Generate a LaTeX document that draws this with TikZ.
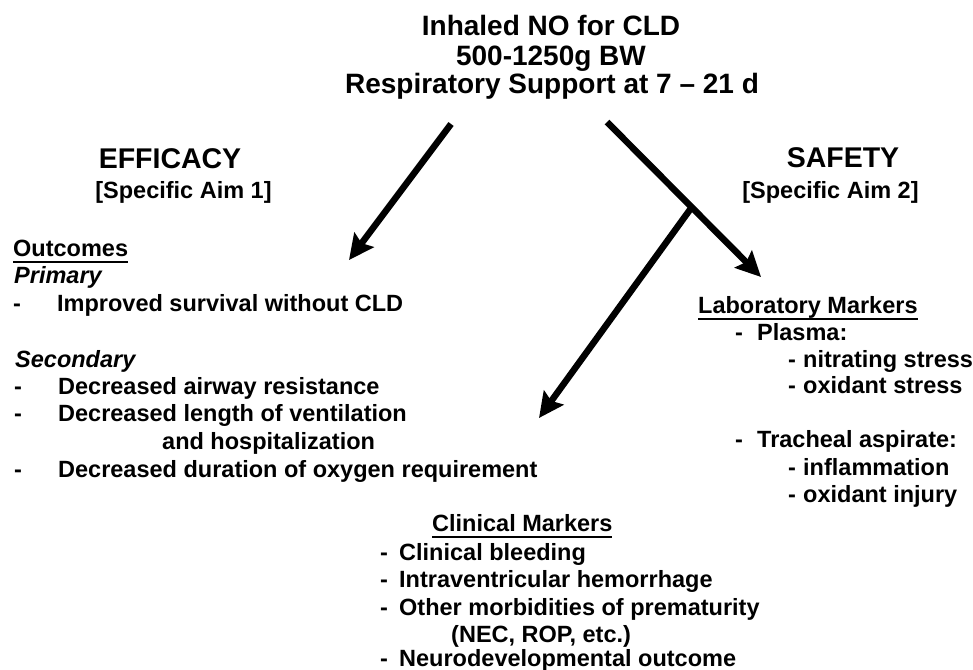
\documentclass[tikz,border=0pt]{standalone}
\usepackage{fontspec}
\setmainfont{Liberation Sans}
\usetikzlibrary{arrows.meta,calc}
\newcommand\ulbox[1]{\setbox0\hbox{#1}\rlap{\rule[-7pt]{\wd0}{2.3pt}}\box0}
\newcommand\ditem[2]{\makebox[#1][l]{-}#2}
\tikzset{
  ttl/.style={font=\fontsize{28}{30}\selectfont\bfseries, inner sep=0pt, anchor=base},
  hd/.style={font=\fontsize{28.5}{30}\selectfont\bfseries, inner sep=0pt, anchor=base},
  aim/.style={font=\fontsize{23.5}{26}\selectfont\bfseries, inner sep=0pt, anchor=base},
  txt/.style={font=\fontsize{23.5}{26}\selectfont\bfseries, inner sep=0pt, anchor=base west},
  itl/.style={font=\fontsize{23.5}{26}\selectfont\bfseries\itshape, inner sep=0pt, anchor=base west},
  bigarrow/.style={line width=6.5pt, -{Stealth[length=25pt,width=24pt,inset=4pt]}}
}
\begin{document}
\begin{tikzpicture}[x=1pt,y=-1pt]
\path[use as bounding box, fill=white] (0,0) rectangle (973,669);
% title
\node[ttl] (t1) at (551,36) {Inhaled NO for CLD};
\node[ttl] (t2) at (551,65) {500-1250g BW};
\node[ttl] (t3) at (552,93) {Respiratory Support at 7 – 21 d};
% headings
\node[hd] (eff) at (170,168) {EFFICACY};
\node[aim] (aim1) at (183.5,198) {[Specific Aim 1]};
\node[hd] (saf) at (843,167) {SAFETY};
\node[aim] (aim2) at (830.5,198) {[Specific Aim 2]};
% efficacy outcomes
\node[txt] (o1) at (13,256) {\ulbox{Outcomes}};
\node[itl] (o2) at (14,283) {Primary};
\node[txt] (o3) at (13,311) {\ditem{44pt}{Improved survival without CLD}};
\node[itl] (s0) at (15,367) {Secondary};
\node[txt] (s1) at (14,394) {\ditem{44pt}{Decreased airway resistance}};
\node[txt] (s2) at (14,421) {\ditem{44pt}{Decreased length of ventilation}};
\node[txt] (s3) at (162,449) {and hospitalization};
\node[txt] (s4) at (14,477) {\ditem{44pt}{Decreased duration of oxygen requirement}};
% laboratory markers
\node[txt] (lm) at (698,313) {\ulbox{Laboratory Markers}};
\node[txt] (p1) at (735,340) {\ditem{22pt}{Plasma:}};
\node[txt] (p2) at (788,367) {\ditem{15pt}{nitrating stress}};
\node[txt] (p3) at (788,393) {\ditem{15pt}{oxidant stress}};
\node[txt] (p4) at (735,447) {\ditem{22pt}{Tracheal aspirate:}};
\node[txt] (p5) at (788,475) {\ditem{15pt}{inflammation}};
\node[txt] (p6) at (788,502) {\ditem{15pt}{oxidant injury}};
% clinical markers
\node[txt] (cm) at (432,531) {\ulbox{Clinical Markers}};
\node[txt] (c1) at (380,560) {\ditem{19pt}{Clinical bleeding}};
\node[txt] (c2) at (380,587) {\ditem{19pt}{Intraventricular hemorrhage}};
\node[txt] (c3) at (380,615) {\ditem{19pt}{Other morbidities of prematurity}};
\node[txt] (c4) at (451,642) {(NEC, ROP, etc.)};
\node[txt] (c5) at (380,666) {\ditem{19pt}{Neurodevelopmental outcome}};
% arrows
\coordinate (la0) at (451,124);
\coordinate (la1) at (349,260);
\coordinate (ra0) at (607,122);
\coordinate (ra1) at (761,277);
\coordinate (jn) at ($(ra0)!0.55!(ra1)$);
\coordinate (ba1) at (539,418);
\draw[bigarrow] (la0) -- (la1);
\draw[bigarrow] (ra0) -- (ra1);
\draw[bigarrow] (jn) -- (ba1);
\end{tikzpicture}
\end{document}
